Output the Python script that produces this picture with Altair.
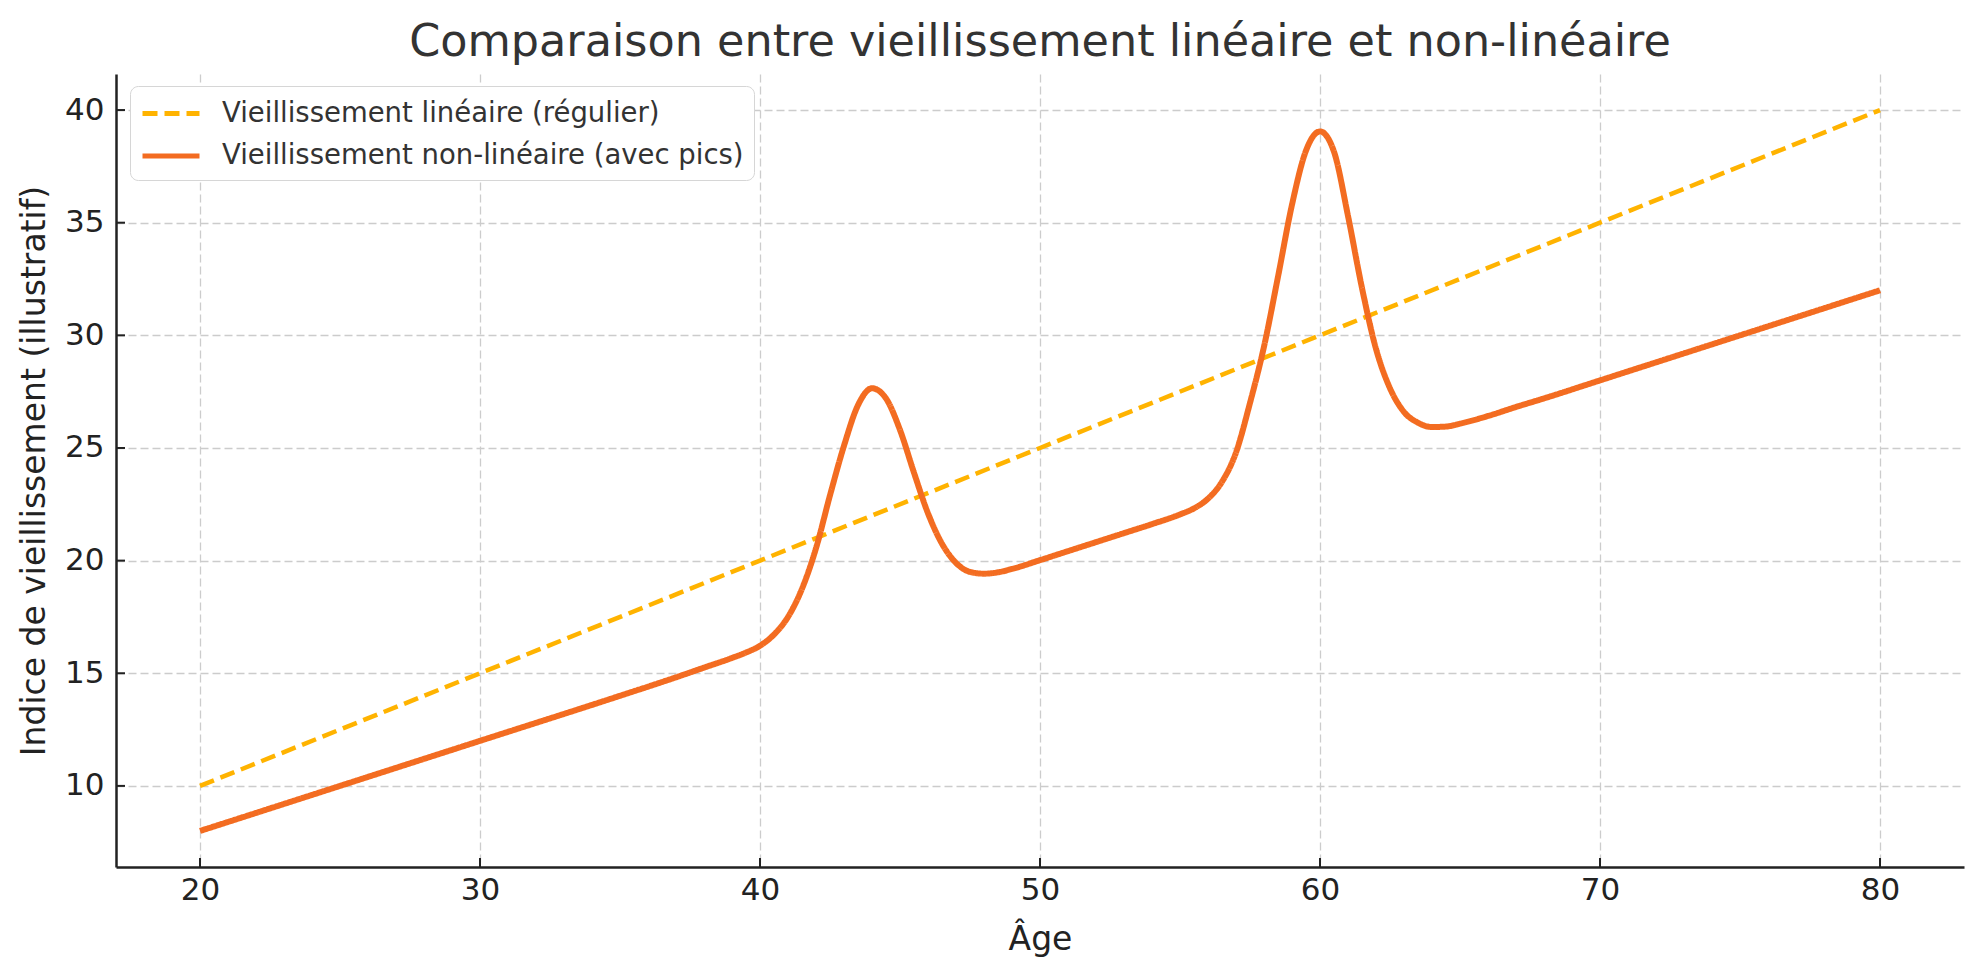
import altair as alt
import pandas as pd

# --- data ---
lin_age = [20, 30, 40, 50, 60, 70, 80]
lin_val = [10, 15, 20, 25, 30, 35, 40]

nl_age = [20, 25, 30, 35, 37, 38, 39, 39.5, 40, 40.5, 41, 41.5, 42, 42.5, 43, 43.5, 44,
          44.5, 45, 45.5, 46, 46.5, 47, 47.5, 48, 48.5, 49, 50, 51, 52, 53, 54, 55,
          55.5, 56, 56.5, 57, 57.5, 58, 58.5, 59, 59.5, 60, 60.5, 61, 61.5, 62, 62.5,
          63, 63.5, 64, 64.5, 65, 66, 67, 68, 70, 72, 75, 78, 80]
nl_val = [8.0, 10.0, 12.0, 14.0, 14.82, 15.25, 15.68, 15.92, 16.22, 16.72, 17.5, 18.75,
          20.55, 22.9, 25.1, 26.9, 27.65, 27.2, 25.8, 23.9, 22.1, 20.75, 19.9, 19.5,
          19.42, 19.48, 19.63, 20.02, 20.42, 20.82, 21.22, 21.62, 22.05, 22.32, 22.75,
          23.5, 24.8, 27.0, 29.5, 32.6, 35.8, 38.2, 39.05, 38.15, 35.3, 32.1, 29.4,
          27.65, 26.6, 26.12, 25.93, 25.95, 26.08, 26.42, 26.82, 27.2, 28.0, 28.8,
          30.0, 31.2, 32.0]

x_ticks = [20, 30, 40, 50, 60, 70, 80]
y_ticks = [10, 15, 20, 25, 30, 35, 40]

s_lin = "Vieillissement linéaire (régulier)"
s_nl = "Vieillissement non-linéaire (avec pics)"

df_lin = pd.DataFrame({"age": lin_age, "val": lin_val, "serie": s_lin})
df_nl = pd.DataFrame({"age": nl_age, "val": nl_val, "serie": s_nl})
df_xt = pd.DataFrame({"t": x_ticks})
df_yt = pd.DataFrame({"t": y_ticks})

W, H = 1848, 793
FONT = "DejaVu Sans"

xscale = alt.Scale(domain=[17, 83], nice=False, zero=False)
yscale = alt.Scale(domain=[6.4, 41.6], nice=False, zero=False)

color = alt.Color(
    "serie:N",
    scale=alt.Scale(domain=[s_lin, s_nl], range=["#FFB300", "#F36C21"]),
    legend=alt.Legend(title=None),
)
dash = alt.StrokeDash(
    "serie:N",
    scale=alt.Scale(domain=[s_lin, s_nl], range=[[15, 7], [1, 0]]),
    legend=alt.Legend(title=None),
)

x_enc = alt.X("age:Q", scale=xscale,
              axis=alt.Axis(values=x_ticks, title="Âge", titlePadding=18, labelPadding=8))
y_enc = alt.Y("val:Q", scale=yscale,
              axis=alt.Axis(values=y_ticks, title="Indice de vieillissement (illustratif)",
                            titlePadding=13, labelPadding=12))

line_lin = alt.Chart(df_lin).mark_line(strokeWidth=4.5, interpolate="linear").encode(
    x=x_enc, y=y_enc, color=color, strokeDash=dash)
line_nl = alt.Chart(df_nl).mark_line(strokeWidth=6, interpolate="monotone").encode(
    x=alt.X("age:Q", scale=xscale), y=alt.Y("val:Q", scale=yscale), color=color, strokeDash=dash)

xt = alt.Chart(df_xt).mark_rule(color="#222222", strokeWidth=2).encode(
    x=alt.X("t:Q", scale=xscale), y=alt.value(H), y2=alt.value(H - 9))
yt = alt.Chart(df_yt).mark_rule(color="#222222", strokeWidth=2).encode(
    y=alt.Y("t:Q", scale=yscale), x=alt.value(0), x2=alt.value(9))

chart = alt.layer(line_lin, line_nl, xt, yt).properties(
    width=W, height=H,
    autosize=alt.AutoSizeParams(type="none"),
    padding={"left": 108, "top": 66, "right": 7, "bottom": 104},
    title=alt.TitleParams(
        "Comparaison entre vieillissement linéaire et non-linéaire",
        fontSize=44.5, font=FONT, fontWeight="normal", color="#333333",
        anchor="middle", offset=9),
).configure_view(stroke=None).configure_axis(
    labelFont=FONT, labelFontSize=31, labelColor="#222222",
    titleFont=FONT, titleFontSize=33, titleColor="#222222", titleFontWeight="normal",
    domainColor="#222222", domainWidth=2.5, ticks=False,
    grid=True, gridColor="#cccccc", gridDash=[8, 4], gridWidth=1.3,
).configure_legend(
    orient="none", legendX=14, legendY=12,
    labelFont=FONT, labelFontSize=27.5, labelColor="#333333", labelLimit=0,
    symbolType="M-1,0H2.8", symbolSize=900, symbolStrokeWidth=5,
    labelOffset=47, padding=10, rowPadding=11.5,
    fillColor="white", strokeColor="#d6d6d6", cornerRadius=8,
)

chart.save("out.html", embed_options={"renderer": "svg", "actions": False})
